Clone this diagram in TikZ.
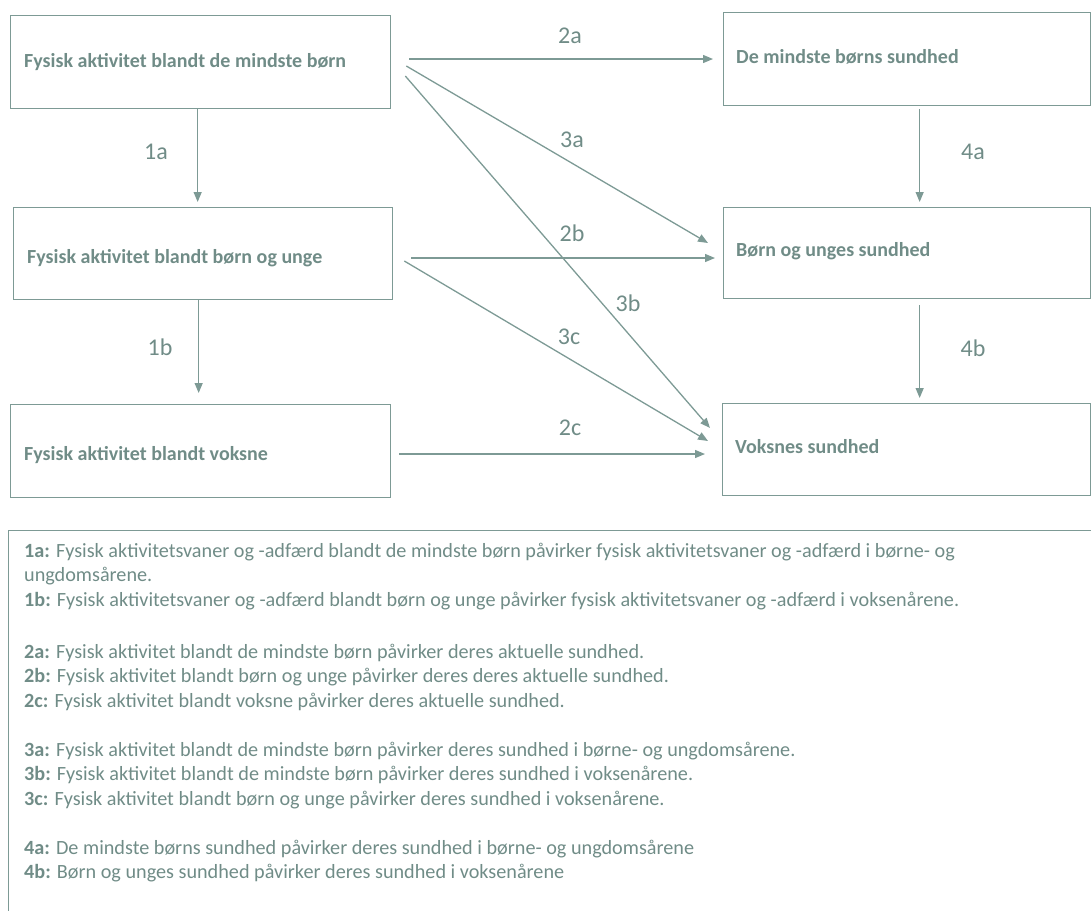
\documentclass[tikz,border=0pt]{standalone}
\usepackage{fontspec}
\setmainfont{Carlito}
\usetikzlibrary{arrows.meta}
\definecolor{ln}{RGB}{125,154,149}
\definecolor{tx}{RGB}{112,140,135}
\begin{document}
\begin{tikzpicture}[x=1pt,y=-1pt,
  box/.style={draw=ln, line width=1.3pt, inner sep=0pt, anchor=north west},
  arr/.style={draw=ln, line width=1.3pt, -{Triangle[length=10pt,width=8pt]}},
  btext/.style={anchor=base west, inner sep=0pt, font=\fontsize{20}{24}\selectfont\bfseries, text=tx},
  lab/.style={inner sep=0pt, font=\fontsize{24}{28}\selectfont, text=tx},
  leg/.style={anchor=base west, inner sep=0pt, font=\fontsize{20.2}{24}\selectfont, text=tx}]
\useasboundingbox (0,0) rectangle (1091,910);
\clip (0,0) rectangle (1091,910);
% boxes
\node[box, minimum width=380pt, minimum height=93pt] (A) at (10,15) {};
\node[box, minimum width=379pt, minimum height=92pt] (B) at (13,207) {};
\node[box, minimum width=380pt, minimum height=93pt] (C) at (10,404) {};
\node[box, minimum width=367pt, minimum height=93pt] (D) at (723,12) {};
\node[box, minimum width=367pt, minimum height=91pt] (E) at (723,207) {};
\node[box, minimum width=368pt, minimum height=92pt] (F) at (722,403) {};
% box texts
\node[btext] (At) at (24,67) {Fysisk aktivitet blandt de mindste børn};
\node[btext] (Bt) at (27,263) {Fysisk aktivitet blandt børn og unge};
\node[btext] (Ct) at (24,460) {Fysisk aktivitet blandt voksne};
\node[btext] (Dt) at (736,63) {De mindste børns sundhed};
\node[btext] (Et) at (736,256) {Børn og unges sundhed};
\node[btext] (Ft) at (735,453) {Voksnes sundhed};
% arrows
\draw[arr] ([shift={(-3,0)}]A.south) -- ([shift={(-5.5,-5)}]B.north);
\draw[arr] ([shift={(-4.5,0)}]B.south) -- ([shift={(-2,-11)}]C.north);
\draw[arr] ([shift={(18,44)}]A.north east) -- ([shift={(-10,47)}]D.north west);
\draw[arr] ([shift={(15,51)}]A.north east) -- ([shift={(-15,36)}]E.north west);
\draw[arr] ([shift={(14,61)}]A.north east) -- ([shift={(-12,25)}]F.north west);
\draw[arr] ([shift={(18,51)}]B.north east) -- ([shift={(-8,51)}]E.north west);
\draw[arr] ([shift={(11,54)}]B.north east) -- ([shift={(-14,38)}]F.north west);
\draw[arr] ([shift={(8,50)}]C.north east) -- ([shift={(-17,51)}]F.north west);
\draw[arr] ([shift={(12.5,3)}]D.south) -- ([shift={(12.5,-5)}]E.north);
\draw[arr] ([shift={(12.5,6)}]E.south) -- ([shift={(13,-5)}]F.north);
% arrow labels
\node[lab] (l1a) at (156,152) {1a};
\node[lab] (l1b) at (160,347) {1b};
\node[lab] (l2a) at (570,36) {2a};
\node[lab] (l3a) at (572,140) {3a};
\node[lab] (l2b) at (572,233) {2b};
\node[lab] (l3b) at (628,303) {3b};
\node[lab] (l3c) at (569,337) {3c};
\node[lab] (l2c) at (570,428) {2c};
\node[lab] (l4a) at (973,152) {4a};
\node[lab] (l4b) at (973,348) {4b};
% legend
\node[box, minimum width=1100pt, minimum height=400pt] (L) at (8,530) {};
\node[leg] (g0) at (24,557) {\textbf{1a:} Fysisk aktivitetsvaner og -adfærd blandt de mindste børn påvirker fysisk aktivitetsvaner og -adfærd i børne- og};
\node[leg] (g1) at (24,581) {ungdomsårene.};
\node[leg] (g2) at (24,606.5) {\textbf{1b:} Fysisk aktivitetsvaner og -adfærd blandt børn og unge påvirker fysisk aktivitetsvaner og -adfærd i voksenårene.};
\node[leg] (g4) at (24,658) {\textbf{2a:} Fysisk aktivitet blandt de mindste børn påvirker deres aktuelle sundhed.};
\node[leg] (g5) at (24,682.5) {\textbf{2b:} Fysisk aktivitet blandt børn og unge påvirker deres deres aktuelle sundhed.};
\node[leg] (g6) at (24,707) {\textbf{2c:} Fysisk aktivitet blandt voksne påvirker deres aktuelle sundhed.};
\node[leg] (g8) at (24,756) {\textbf{3a:} Fysisk aktivitet blandt de mindste børn påvirker deres sundhed i børne- og ungdomsårene.};
\node[leg] (g9) at (24,780.5) {\textbf{3b:} Fysisk aktivitet blandt de mindste børn påvirker deres sundhed i voksenårene.};
\node[leg] (g10) at (24,805) {\textbf{3c:} Fysisk aktivitet blandt børn og unge påvirker deres sundhed i voksenårene.};
\node[leg] (g12) at (24,854) {\textbf{4a:} De mindste børns sundhed påvirker deres sundhed i børne- og ungdomsårene};
\node[leg] (g13) at (24,878.5) {\textbf{4b:} Børn og unges sundhed påvirker deres sundhed i voksenårene};
\end{tikzpicture}
\end{document}
